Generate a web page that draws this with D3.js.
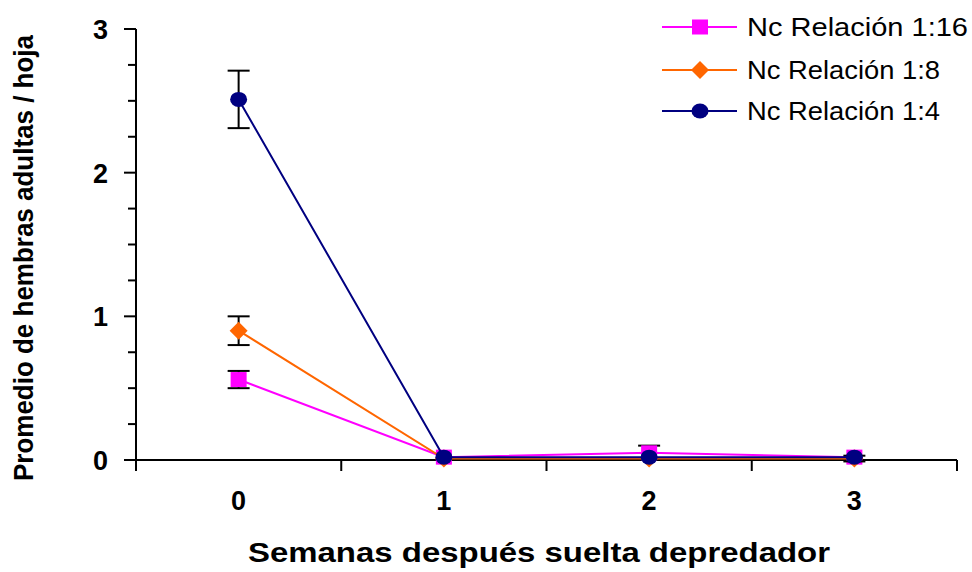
<!DOCTYPE html>
<html>
<head>
<meta charset="utf-8">
<script src="https://cdn.jsdelivr.net/npm/d3@7"></script>
<style>
  body { margin: 0; background: #fff; }
  svg { display: block; font-family: "Liberation Sans", Arial, sans-serif; }
</style>
</head>
<body>
<svg id="chart" width="972" height="572"></svg>
<script>
// Weeks after predator release
const weeks = ["0", "1", "2", "3"];
const seriesNames = ["Nc Relación 1:16", "Nc Relación 1:8", "Nc Relación 1:4"];
// Mean adult females per leaf
const mean116 = [0.56, 0.02, 0.05, 0.02];
const mean18  = [0.90, 0.01, 0.01, 0.01];
const mean14  = [2.51, 0.02, 0.02, 0.02];
// Error (±)
const err116 = [0.06, 0, 0.05, 0];
const err18  = [0.10, 0, 0, 0.02];
const err14  = [0.20, 0, 0, 0];
const yTicks = [0, 1, 2, 3];

const colors = ["#ff00ff", "#ff6600", "#000080"];
const shapes = ["square", "diamond", "circle"];
const series = [
  { name: seriesNames[0], values: mean116, errs: err116, color: colors[0], shape: shapes[0] },
  { name: seriesNames[1], values: mean18,  errs: err18,  color: colors[1], shape: shapes[1] },
  { name: seriesNames[2], values: mean14,  errs: err14,  color: colors[2], shape: shapes[2] }
];

const svg = d3.select("#chart");
const plotL = 136, plotR = 957, plotT = 29, plotB = 460;

const x = d3.scaleBand().domain(weeks).range([plotL, plotR]);
const y = d3.scaleLinear().domain([0, 3]).range([plotB, plotT]);

// Y axis: major ticks at integers, minor every 0.25
const yMinor = d3.range(0, 3.001, 0.25).filter(v => Math.abs(v - Math.round(v)) > 1e-6);
svg.append("line").attr("x1", plotL).attr("x2", plotL).attr("y1", plotT).attr("y2", plotB + 11)
  .attr("stroke", "#000").attr("stroke-width", 2);
svg.selectAll(".ymaj").data(yTicks).join("line")
  .attr("x1", plotL - 12).attr("x2", plotL).attr("y1", d => y(d)).attr("y2", d => y(d))
  .attr("stroke", "#000").attr("stroke-width", 2);
svg.selectAll(".ymin").data(yMinor).join("line")
  .attr("x1", plotL - 8).attr("x2", plotL).attr("y1", d => y(d)).attr("y2", d => y(d))
  .attr("stroke", "#000").attr("stroke-width", 2);
svg.selectAll(".ylab").data(yTicks).join("text")
  .attr("x", 108).attr("y", d => y(d) + 10).attr("text-anchor", "end")
  .attr("font-size", 27).attr("font-weight", "bold").text(d => d);

// X axis with category boundary ticks
svg.append("line").attr("x1", plotL).attr("x2", plotR).attr("y1", plotB).attr("y2", plotB)
  .attr("stroke", "#000").attr("stroke-width", 2);
const bounds = weeks.map(w => x(w)).concat([plotR]);
svg.selectAll(".xt").data(bounds).join("line")
  .attr("x1", d => d).attr("x2", d => d).attr("y1", plotB).attr("y2", plotB + 11)
  .attr("stroke", "#000").attr("stroke-width", 2);
svg.selectAll(".xlab").data(weeks).join("text")
  .attr("x", d => x(d) + x.bandwidth() / 2).attr("y", 510).attr("text-anchor", "middle")
  .attr("font-size", 27).attr("font-weight", "bold").text(d => d);

// Axis titles
svg.append("text").attr("x", 539).attr("y", 562).attr("text-anchor", "middle")
  .attr("font-size", 28).attr("font-weight", "bold")
  .attr("textLength", 582).attr("lengthAdjust", "spacingAndGlyphs")
  .text("Semanas después suelta depredador");
svg.append("text").attr("transform", "translate(33,258) rotate(-90)")
  .attr("text-anchor", "middle").attr("font-size", 27).attr("font-weight", "bold")
  .attr("textLength", 446).attr("lengthAdjust", "spacingAndGlyphs")
  .text("Promedio de hembras adultas / hoja");

const cx = i => x(weeks[i]) + x.bandwidth() / 2;

function drawMarker(g, shape, color, px, py) {
  if (shape === "square") {
    g.append("rect").attr("x", px - 8).attr("y", py - 7.5).attr("width", 16).attr("height", 15).attr("fill", color);
  } else if (shape === "diamond") {
    g.append("path").attr("d", `M${px},${py - 9}L${px + 9},${py}L${px},${py + 9}L${px - 9},${py}Z`).attr("fill", color);
  } else {
    g.append("ellipse").attr("cx", px).attr("cy", py).attr("rx", 8.5).attr("ry", 7.5).attr("fill", color);
  }
}

const line = d3.line().x((d, i) => cx(i)).y(d => y(d));

series.forEach(s => {
  const g = svg.append("g");
  // error bars
  s.values.forEach((v, i) => {
    if (s.errs[i] <= 0) return;
    const px = cx(i), y1 = y(v + s.errs[i]), y0 = y(v - s.errs[i]);
    g.append("line").attr("x1", px).attr("x2", px).attr("y1", y1).attr("y2", y0).attr("stroke", "#000").attr("stroke-width", 2);
    [y1, y0].forEach(yy => g.append("line").attr("x1", px - 11).attr("x2", px + 11).attr("y1", yy).attr("y2", yy)
      .attr("stroke", "#000").attr("stroke-width", 2));
  });
  g.append("path").attr("d", line(s.values)).attr("fill", "none").attr("stroke", s.color).attr("stroke-width", 2);
  s.values.forEach((v, i) => drawMarker(g, s.shape, s.color, cx(i), y(v)));
});

// Legend
const legendY = [27, 70, 111];
const legendLen = [221, 193, 193];
series.forEach((s, k) => {
  const g = svg.append("g");
  g.append("line").attr("x1", 662).attr("x2", 737).attr("y1", legendY[k]).attr("y2", legendY[k])
    .attr("stroke", s.color).attr("stroke-width", 2);
  drawMarker(g, s.shape, s.color, 700, legendY[k]);
  g.append("text").attr("x", 747).attr("y", legendY[k] + 9).attr("font-size", 26)
    .attr("textLength", legendLen[k]).attr("lengthAdjust", "spacingAndGlyphs").text(s.name);
});
</script>
</body>
</html>
